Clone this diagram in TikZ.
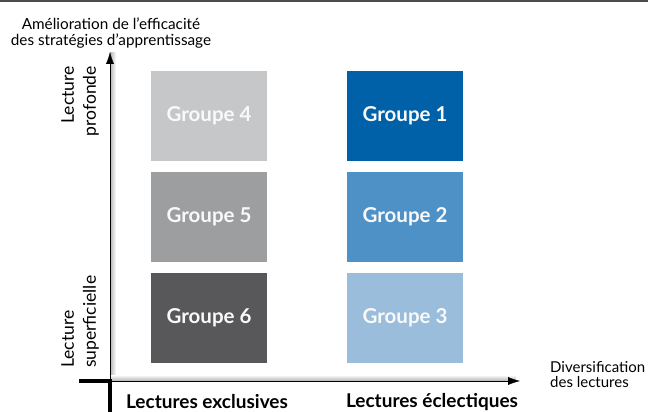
\documentclass[tikz,border=0pt]{standalone}
\usepackage{fontspec}
\setmainfont{Lato}
\usepackage{xcolor}
\usetikzlibrary{positioning, arrows.meta}

\definecolor{gris4}{HTML}{C6C7C9}
\definecolor{gris5}{HTML}{9D9EA0}
\definecolor{gris6}{HTML}{58585A}
\definecolor{bleu1}{HTML}{0060A8}
\definecolor{bleu2}{HTML}{4D91C6}
\definecolor{bleu3}{HTML}{9ABDDC}

\begin{document}
\begin{tikzpicture}[x=1pt, y=-1pt,
	groupe/.style={minimum width=116pt, minimum height=90pt, inner sep=0pt,
		text=white!95!gray, font=\bfseries\fontsize{20.5}{20.5}\selectfont},
	axe/.style={inner sep=0pt, font=\fontsize{15.3}{16}\selectfont},
	cote/.style={inner sep=0pt, rotate=90, font=\fontsize{17.5}{22}\selectfont},
	pole/.style={font=\bfseries\fontsize{19}{20}\selectfont}]
				\useasboundingbox (0,0) rectangle (648,412);
				\draw [line width=1.6pt, black!70] (0,0.8)--(648,0.8);
				
				% ombre des axes
				\shade [left color=black!30, right color=white] (110,53) rectangle (116,381);
				\shade [top color=white, bottom color=black!30] (110,375) rectangle (516,381);
				
				\coordinate (O) at (110,381);
				\coordinate (ytip) at (110,52);
				\coordinate (xtip) at (520,381);
				\coordinate (gauche) at (79,381);
				\coordinate (bas) at (110,412);
				
				\draw [-{Latex[length=12pt,width=8pt]}, thin] (O)--(ytip);
				\draw [-{Latex[length=12pt,width=8pt]}, thin] (O)--(xtip);
				\draw [line width=3.5pt] (gauche)--(O)--(bas);
				
				\node [groupe, fill=gris4] (g4) at (209,116) {Groupe 4};
				\node [groupe, fill=gris5] (g5) at (209,217) {Groupe 5};
				\node [groupe, fill=gris6] (g6) at (209,318) {Groupe 6};
				\node [groupe, fill=bleu1] (g1) at (405,116) {Groupe 1};
				\node [groupe, fill=bleu2] (g2) at (405,217) {Groupe 2};
				\node [groupe, fill=bleu3] (g3) at (405,318) {Groupe 3};
				
				\node [axe, align=center] (ameli) at (111,33)
				{Amélioration de l’efficacité\\des stratégies d’apprentissage};
				\node [axe, align=left, anchor=north west, font=\fontsize{15}{15}\selectfont] (divers) at (550,361)
				{Diversification\\des lectures};
				
				\node [cote, align=right, anchor=east] (prof) at (80,66) {Lecture\\profonde};
				\node [cote, align=left, anchor=west] (superf) at (80,368) {Lecture\\superficielle};
				
				\node [pole] (excl) at (207,402) {Lectures exclusives};
				\node [pole] (eclec) at (432,402) {Lectures éclectiques};
			\end{tikzpicture}
\end{document}
